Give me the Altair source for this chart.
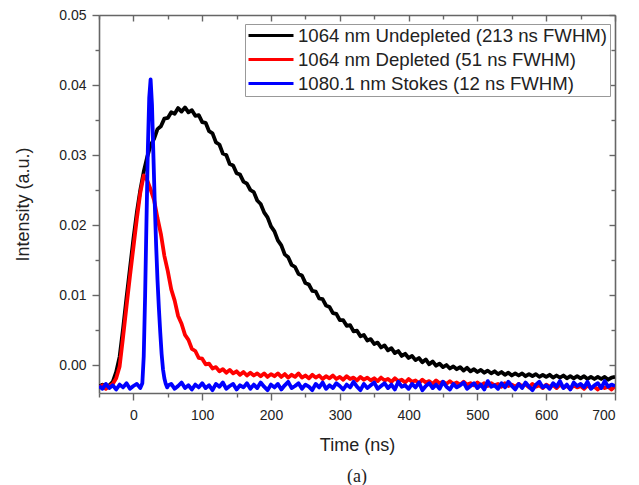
import altair as alt
import pandas as pd

# ---------------- data ----------------
series_names = [
    "1064 nm Undepleted (213 ns FWHM)",
    "1064 nm Depleted (51 ns FWHM)",
    "1080.1 nm Stokes (12 ns FWHM)",
]
series_colors = ["#000000", "#ff0000", "#0000ff"]

time_ns = list(range(-50, 705, 5))

undepleted = [
    -0.0031, -0.0028, -0.0033, -0.0029, -0.0024, -0.0010, 0.0012, 0.0052, 0.0096, 0.0138,
    0.0180, 0.0218, 0.0250, 0.0276, 0.0297, 0.0314, 0.0323, 0.0337, 0.0341, 0.0352,
    0.0353, 0.0361, 0.0359, 0.0367, 0.0362, 0.0368, 0.0361, 0.0364, 0.0356, 0.0357,
    0.0347, 0.0346, 0.0334, 0.0331, 0.0318, 0.0315, 0.0302, 0.0300, 0.0287, 0.0285,
    0.0274, 0.0272, 0.0262, 0.0259, 0.0250, 0.0247, 0.0235, 0.0230, 0.0218, 0.0211,
    0.0198, 0.0191, 0.0178, 0.0171, 0.0158, 0.0154, 0.0143, 0.0140, 0.0130, 0.0128,
    0.0117, 0.0115, 0.0106, 0.0105, 0.0095, 0.0094, 0.0085, 0.0083, 0.0074, 0.0073,
    0.0064, 0.0064, 0.0056, 0.0057, 0.0048, 0.0049, 0.0041, 0.0043, 0.0035, 0.0037,
    0.0030, 0.0032, 0.0025, 0.0028, 0.0021, 0.0024, 0.0017, 0.0020, 0.0013, 0.0016,
    0.0010, 0.0013, 0.0007, 0.0010, 0.0004, 0.0008, 0.0001, 0.0005, -0.0001, 0.0002,
    -0.0003, 0.0000, -0.0005, -0.0002, -0.0006, -0.0003, -0.0008, -0.0004, -0.0009, -0.0006,
    -0.0010, -0.0007, -0.0011, -0.0008, -0.0012, -0.0009, -0.0013, -0.0010, -0.0014, -0.0011,
    -0.0015, -0.0012, -0.0015, -0.0012, -0.0016, -0.0013, -0.0016, -0.0013, -0.0017, -0.0014,
    -0.0017, -0.0014, -0.0018, -0.0015, -0.0018, -0.0015, -0.0019, -0.0016, -0.0019, -0.0016,
    -0.0019, -0.0016, -0.0020, -0.0017, -0.0020, -0.0017, -0.0020, -0.0017, -0.0021, -0.0018,
    -0.0017,
]

depleted = [
    -0.0032, -0.0029, -0.0034, -0.0030, -0.0027, -0.0019, -0.0002, 0.0040, 0.0084, 0.0127,
    0.0168, 0.0209, 0.0246, 0.0271, 0.0264, 0.0251, 0.0236, 0.0210, 0.0187, 0.0156,
    0.0134, 0.0108, 0.0092, 0.0070, 0.0059, 0.0043, 0.0036, 0.0023, 0.0020, 0.0010,
    0.0009, 0.0001, 0.0002, -0.0005, -0.0003, -0.0009, -0.0006, -0.0011, -0.0007, -0.0012,
    -0.0009, -0.0014, -0.0010, -0.0015, -0.0011, -0.0015, -0.0012, -0.0016, -0.0012, -0.0017,
    -0.0013,
    -0.0016, -0.0012, -0.0017, -0.0013, -0.0018, -0.0014, -0.0017, -0.0012, -0.0018, -0.0015,
    -0.0019, -0.0014, -0.0018, -0.0015, -0.0020, -0.0016, -0.0019, -0.0015, -0.0020, -0.0017,
    -0.0021, -0.0016, -0.0020, -0.0018, -0.0022, -0.0017, -0.0021, -0.0018, -0.0022, -0.0019,
    -0.0023, -0.0018, -0.0022, -0.0020, -0.0024, -0.0019, -0.0023, -0.0021, -0.0025, -0.0020,
    -0.0024, -0.0022, -0.0026, -0.0021, -0.0025, -0.0023, -0.0027, -0.0022, -0.0026, -0.0024,
    -0.0027, -0.0023, -0.0027, -0.0025, -0.0028, -0.0024, -0.0028, -0.0026, -0.0029, -0.0025,
    -0.0029, -0.0026, -0.0030, -0.0026, -0.0029, -0.0027, -0.0031, -0.0026, -0.0030, -0.0028,
    -0.0031, -0.0027, -0.0030, -0.0028, -0.0032, -0.0027, -0.0031, -0.0029, -0.0033, -0.0028,
    -0.0031, -0.0029, -0.0033, -0.0028, -0.0032, -0.0030, -0.0034, -0.0029, -0.0032, -0.0030,
    -0.0034, -0.0029, -0.0033, -0.0031, -0.0035, -0.0030, -0.0033, -0.0031, -0.0035, -0.0030,
]

stokes_time = list(range(-50, 15, 5)) + list(range(13, 53, 2)) + list(range(55, 705, 5))
stokes_before = [
    -0.0030, -0.0034, -0.0027, -0.0033, -0.0029, -0.0035, -0.0028, -0.0032, -0.0026, -0.0034,
    -0.0030, -0.0027, -0.0033,
]
stokes_pulse = [
    -0.0026, 0.0012, 0.0098, 0.0205, 0.0308, 0.0382, 0.0408, 0.0372, 0.0302, 0.0232,
    0.0172, 0.0122, 0.0082, 0.0047, 0.0016, -0.0006, -0.0019, -0.0027, -0.0032, -0.0029,
]
stokes_after = [
    -0.0027, -0.0034, -0.0030, -0.0025, -0.0033, -0.0029, -0.0035, -0.0028, -0.0032, -0.0026,
    -0.0033, -0.0029, -0.0036, -0.0027, -0.0031, -0.0025, -0.0034, -0.0030, -0.0027, -0.0035,
    -0.0029, -0.0032, -0.0026, -0.0034, -0.0028, -0.0033, -0.0025, -0.0031, -0.0036, -0.0028,
    -0.0032, -0.0027, -0.0035, -0.0029, -0.0024, -0.0033, -0.0030, -0.0026, -0.0034, -0.0028,
    -0.0031, -0.0036, -0.0027, -0.0032, -0.0025, -0.0034, -0.0029, -0.0033, -0.0026, -0.0030,
    -0.0035, -0.0028, -0.0032, -0.0024, -0.0031, -0.0036, -0.0027, -0.0033, -0.0029, -0.0025,
    -0.0034, -0.0030, -0.0026, -0.0033, -0.0028, -0.0035, -0.0024, -0.0031, -0.0029, -0.0034,
    -0.0027, -0.0032, -0.0025, -0.0036, -0.0030, -0.0026, -0.0033, -0.0028, -0.0034, -0.0024,
    -0.0031, -0.0035, -0.0027, -0.0032, -0.0029, -0.0025, -0.0034, -0.0030, -0.0026, -0.0033,
    -0.0028, -0.0035, -0.0023, -0.0031, -0.0029, -0.0034, -0.0026, -0.0032, -0.0024, -0.0030,
    -0.0035, -0.0027, -0.0033, -0.0025, -0.0031, -0.0036, -0.0028, -0.0024, -0.0032, -0.0029,
    -0.0034, -0.0026, -0.0031, -0.0023, -0.0033, -0.0028, -0.0035, -0.0025, -0.0030, -0.0027,
    -0.0032, -0.0024, -0.0034, -0.0029, -0.0026, -0.0033, -0.0023, -0.0031, -0.0028, -0.0030,
]
stokes = stokes_before + stokes_pulse + stokes_after

x_ticks = [-50, 0, 50, 100, 150, 200, 250, 300, 350, 400, 450, 500, 550, 600, 650, 700]
y_ticks = [0.0, 0.005, 0.01, 0.015, 0.02, 0.025, 0.03, 0.035, 0.04, 0.045, 0.05]
x_domain = [-50, 700]
y_domain = [-0.004, 0.05]

# ---------------- tables ----------------
df_u = pd.DataFrame({"t": time_ns, "v": undepleted, "s": series_names[0]})
df_d = pd.DataFrame({"t": time_ns, "v": depleted, "s": series_names[1]})
df_s = pd.DataFrame({"t": stokes_time, "v": stokes, "s": series_names[2]})

W, H = 516, 378
FONT = "Liberation Sans"
AX_COL = "#666666"
TXT = "#222222"

x_major = "datum.value % 100 === 0"
y_major = "abs(datum.value * 100 - round(datum.value * 100)) < 1e-6"

xs = alt.Scale(domain=x_domain, nice=False, zero=False)
ys = alt.Scale(domain=y_domain, nice=False, zero=False)

color = alt.Color(
    "s:N",
    scale=alt.Scale(domain=series_names, range=series_colors),
    legend=alt.Legend(
        title=None,
        orient="none",
        legendX=146,
        legendY=9,
        symbolType="stroke",
        symbolSize=2025,
        symbolStrokeWidth=3,
        clipHeight=19,
        labelFontSize=18.6,
        labelFont=FONT,
        labelColor=TXT,
        labelLimit=500,
        rowPadding=4,
        padding=2,
        strokeColor="#999999",
        fillColor="white",
        labelOffset=3,
    ),
)

x_axis_main = alt.Axis(
    values=x_ticks,
    labelExpr=f"{x_major} ? datum.label : ''",
    tickSize={"condition": {"test": x_major, "value": 7}, "value": 4},
    title="Time (ns)",
    titlePadding=14,
    labelPadding=8,
    grid=False,
)
y_axis_main = alt.Axis(
    values=y_ticks,
    format=".2f",
    labelExpr=f"{y_major} ? datum.label : ''",
    tickSize={"condition": {"test": y_major, "value": 7}, "value": 4},
    title="Intensity (a.u.)",
    titlePadding=26,
    labelPadding=6,
    grid=False,
)
x_axis_top = alt.Axis(
    orient="bottom",
    offset=-H,
    values=x_ticks,
    labels=False,
    title=None,
    tickSize={"condition": {"test": x_major, "value": 6}, "value": 4},
    grid=False,
)
y_axis_right = alt.Axis(
    orient="left",
    offset=-W,
    values=y_ticks,
    labels=False,
    title=None,
    tickSize={"condition": {"test": y_major, "value": 6}, "value": 4},
    grid=False,
)

def line(df, xaxis=None, yaxis=None):
    return alt.Chart(df).mark_line(strokeWidth=3.8, strokeJoin="round", clip=True).encode(
        x=alt.X("t:Q", scale=xs, axis=xaxis),
        y=alt.Y("v:Q", scale=ys, axis=yaxis),
        color=color,
    )

black = line(df_u, x_axis_main, y_axis_main)
red = line(df_d)
blue = line(df_s)
frame = alt.Chart(df_u).mark_line(opacity=0).encode(
    x=alt.X("t:Q", scale=xs, axis=x_axis_top),
    y=alt.Y("v:Q", scale=ys, axis=y_axis_right),
)

chart = (
    alt.layer(black, red, blue, frame)
    .resolve_axis(x="independent", y="independent")
    .properties(
        width=W,
        height=H,
        padding={"left": 6, "top": 0, "right": 5, "bottom": 0},
        title=alt.TitleParams(
            "(a)",
            orient="bottom",
            font="Liberation Serif",
            fontSize=18,
            fontWeight="normal",
            color=TXT,
            offset=14,
        ),
    )
    .configure_view(stroke=None)
    .configure_axis(
        domainColor=AX_COL,
        domainWidth=1.6,
        tickColor=AX_COL,
        tickWidth=1.4,
        labelFont=FONT,
        labelFontSize=14,
        labelColor=TXT,
        titleFont=FONT,
        titleFontSize=18,
        titleFontWeight="normal",
        titleColor=TXT,
    )
)

chart.save("out.html", embed_options={"renderer": "svg", "actions": False})
